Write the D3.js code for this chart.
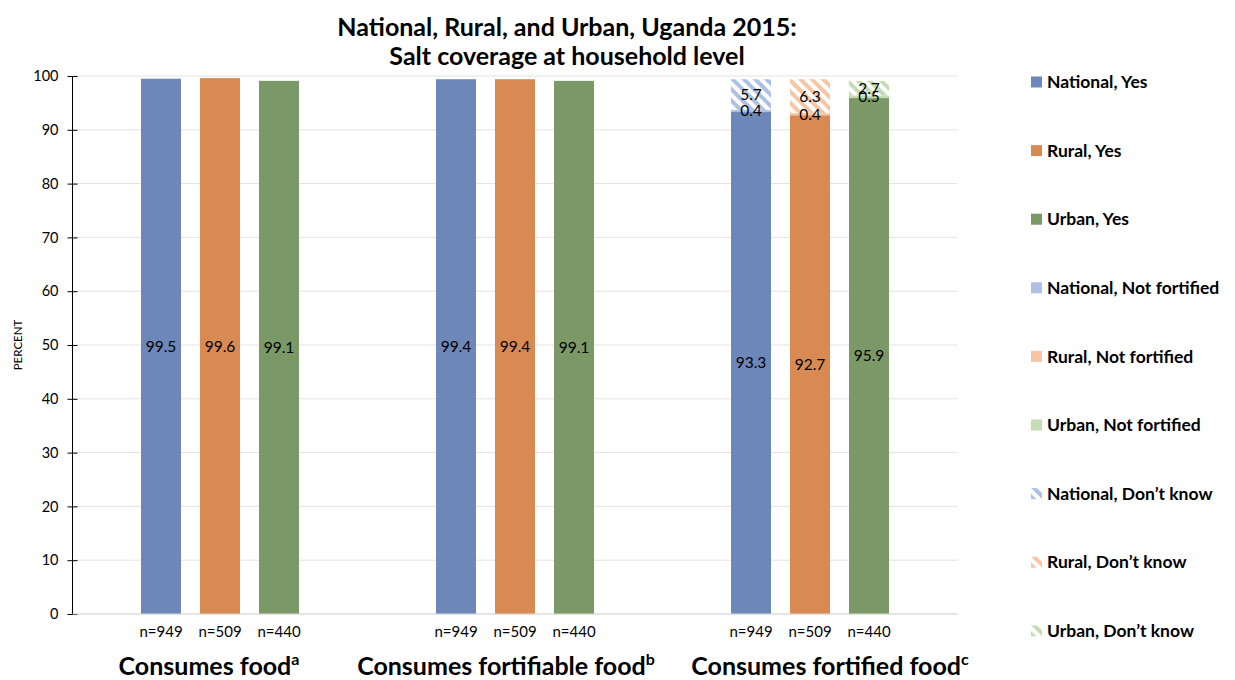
<!DOCTYPE html>
<html><head><meta charset="utf-8">
<script src="https://cdn.jsdelivr.net/npm/d3@7"></script>
<style>body{margin:0;background:#fff;font-family:Lato,"Liberation Sans",sans-serif}</style>
</head><body><svg id="c" width="1235" height="680"></svg>
<script>
const categories = ["Consumes food", "Consumes fortifiable food", "Consumes fortified food"];
const categorySup = ["a", "b", "c"];
const areas = ["National", "Rural", "Urban"];
const sampleSizes = ["n=949", "n=509", "n=440"];
const yesValues = [[99.5, 99.6, 99.1], [99.4, 99.4, 99.1], [93.3, 92.7, 95.9]];
const notFortifiedValues = [[null, null, null], [null, null, null], [0.4, 0.4, 0.5]];
const dontKnowValues = [[null, null, null], [null, null, null], [5.7, 6.3, 2.7]];
const yTicks = [0, 10, 20, 30, 40, 50, 60, 70, 80, 90, 100];
const legendLabels = ["National, Yes", "Rural, Yes", "Urban, Yes", "National, Not fortified", "Rural, Not fortified", "Urban, Not fortified", "National, Don\u2019t know", "Rural, Don\u2019t know", "Urban, Don\u2019t know"];

const darkColors = ["#6d87b8", "#d98a52", "#7a9966"];
const lightColors = ["#aec1e5", "#f6c5a3", "#c3dcb3"];
const catLabelShift = [-11, -9, 20];

const svg = d3.select("#c");
const defs = svg.append("defs");
areas.forEach((a, i) => {
  const p = defs.append("pattern").attr("id", "hatch" + i).attr("patternUnits", "userSpaceOnUse")
    .attr("width", 8).attr("height", 8).attr("patternTransform", "rotate(45)");
  p.append("rect").attr("width", 8).attr("height", 8).attr("fill", "#fff");
  p.append("rect").attr("width", 8).attr("height", 4).attr("fill", lightColors[i]);
});

const x0 = d3.scaleBand().domain(categories).range([72.5, 957.5]);
const x1 = d3.scaleBand().domain(areas).range([0, x0.bandwidth()]).paddingInner(0.322).paddingOuter(1.161);
const y = d3.scaleLinear().domain([0, 100]).range([614, 76]);

// gridlines
svg.append("g").selectAll("line").data(yTicks).join("line")
  .attr("x1", 72.5).attr("x2", 957.5).attr("y1", d => y(d)).attr("y2", d => y(d))
  .attr("stroke", "#e3e3e3").attr("stroke-width", 1);

// y axis
const yAxis = svg.append("g").attr("transform", "translate(72.5,0)")
  .call(d3.axisLeft(y).tickValues(yTicks).tickSize(5).tickPadding(9));
yAxis.select(".domain").attr("stroke", "#000").attr("d", "M0," + y(100) + "V" + y(0));
yAxis.selectAll(".tick line").attr("x1", -5).attr("x2", 5).attr("stroke", "#000");
yAxis.selectAll("text").attr("font-size", 14.5).attr("font-family", "Lato,sans-serif").attr("fill", "#000");

svg.append("text").attr("transform", "translate(22,345) rotate(-90)").attr("text-anchor", "middle")
  .attr("font-size", 11.5).attr("fill", "#000").text("PERCENT");

// bars
const bars = [];
categories.forEach((c, ci) => areas.forEach((a, ai) => {
  const yes = yesValues[ci][ai], nf = notFortifiedValues[ci][ai], dk = dontKnowValues[ci][ai];
  const bx = x0(c) + x1(a);
  bars.push({x: bx, y0: 0, y1: yes, fill: darkColors[ai], v: yes});
  if (nf != null) bars.push({x: bx, y0: yes, y1: yes + nf, fill: lightColors[ai], v: nf});
  if (dk != null) bars.push({x: bx, y0: yes + (nf || 0), y1: yes + (nf || 0) + dk, fill: "url(#hatch" + ai + ")", v: dk});
}));
svg.append("g").selectAll("rect").data(bars).join("rect")
  .attr("x", d => d.x).attr("width", x1.bandwidth())
  .attr("y", d => y(d.y1)).attr("height", d => y(d.y0) - y(d.y1)).attr("fill", d => d.fill);
svg.append("g").selectAll("text").data(bars).join("text")
  .attr("x", d => d.x + x1.bandwidth() / 2).attr("y", d => y((d.y0 + d.y1) / 2))
  .attr("dy", "0.35em").attr("text-anchor", "middle").attr("font-size", 15.5).attr("fill", "#000")
  .text(d => d.v.toFixed(1));

// baseline
svg.append("line").attr("x1", 72.5).attr("x2", 957.5).attr("y1", y(0)).attr("y2", y(0)).attr("stroke", "#d9d9d9");

// n labels
categories.forEach(c => areas.forEach((a, ai) => {
  svg.append("text").attr("x", x0(c) + x1(a) + x1.bandwidth() / 2).attr("y", 637).attr("text-anchor", "middle")
    .attr("font-size", 15).attr("fill", "#000").text(sampleSizes[ai]);
}));
// category labels
categories.forEach((c, ci) => {
  const t = svg.append("text").attr("x", x0(c) + x0.bandwidth() / 2 + catLabelShift[ci]).attr("y", 675).attr("text-anchor", "middle")
    .attr("font-size", 25).attr("font-weight", "bold").attr("fill", "#000");
  t.append("tspan").text(c);
  t.append("tspan").attr("font-size", 16).attr("dy", -10).text(categorySup[ci]);
});

// title
svg.append("text").attr("x", 567).attr("y", 36).attr("text-anchor", "middle").attr("font-size", 25).attr("font-weight", "bold").text("National, Rural, and Urban, Uganda 2015:");
svg.append("text").attr("x", 567).attr("y", 65).attr("text-anchor", "middle").attr("font-size", 25).attr("font-weight", "bold").text("Salt coverage at household level");

// legend
const legFills = [...darkColors, ...lightColors, "url(#hatch0)", "url(#hatch1)", "url(#hatch2)"];
const leg = svg.append("g").selectAll("g").data(legendLabels).join("g")
  .attr("transform", (d, i) => "translate(1031," + (82 + i * 68.6) + ")");
leg.append("rect").attr("x", 0).attr("y", -5.5).attr("width", 11).attr("height", 11).attr("fill", (d, i) => legFills[i]);
leg.append("text").attr("x", 16).attr("dy", "0.35em").attr("font-size", 17.5).attr("font-weight", "bold").attr("fill", "#000").text(d => d);
</script></body></html>
